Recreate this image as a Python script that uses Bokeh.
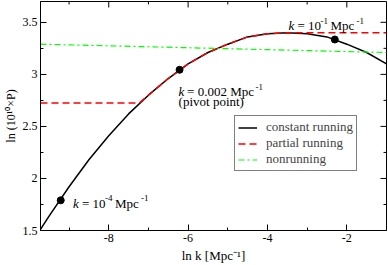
import math
from bokeh.plotting import figure
from bokeh.models import Label, Legend, LegendItem, FixedTicker, Range1d
from bokeh.embed import file_html
from bokeh.resources import INLINE

# ---- data ----
lnk_const = [-9.72, -9.5, -9.0, -8.5, -8.0, -7.5, -7.0, -6.5, -6.0, -5.5, -5.0,
             -4.5, -4.0, -3.5, -3.0, -2.5, -2.0, -1.5, -1.0]
lnP_const = [1.51, 1.64, 1.92, 2.18, 2.41, 2.62, 2.80, 2.96, 3.10, 3.21, 3.29,
             3.36, 3.39, 3.40, 3.39, 3.36, 3.29, 3.21, 3.10]
lnk_partial = [-9.72, -7.23, -7.0, -6.5, -6.0, -5.5, -5.0, -4.5, -4.0, -3.5, -1.0]
lnP_partial = [2.725, 2.725, 2.80, 2.96, 3.10, 3.21, 3.29, 3.36, 3.39, 3.40, 3.40]
lnk_nonrun = [-9.72, -1.0]
lnP_nonrun = [3.29, 3.21]
pts_lnk = [-9.21, -6.215, -2.303]
pts_lnP = [1.79, 3.044, 3.335]
x_ticks = [-8, -6, -4, -2]
x_tick_labels = ["-8", "-6", "-4", "-2"]
x_minor = [-9, -7, -5, -3]
y_ticks = [1.5, 2, 2.5, 3, 3.5]
y_tick_labels = ["1.5", "2", "2.5", "3", "3.5"]
y_minor = [1.75, 2.25, 2.75, 3.25]
series_names = ["constant running", "partial running", "nonrunning"]
x_title = "ln k [Mpc⁻¹]"
y_title = "ln (10¹⁰×P)"
X_MIN, X_MAX = -9.72, -1.0
Y_MIN, Y_MAX = 1.5, 3.7

FONT = "Liberation Serif"

p = figure(width=388, height=265, x_range=Range1d(X_MIN, X_MAX), y_range=Range1d(Y_MIN, Y_MAX),
           output_backend="svg", toolbar_location=None,
           min_border_left=39, min_border_right=2, min_border_top=1, min_border_bottom=33)
p.grid.visible = False
p.outline_line_color = "black"
p.outline_line_width = 1
p.background_fill_color = "white"
p.border_fill_color = "white"

def style_axis(ax, ticks, minor, labels):
    ax.ticker = FixedTicker(ticks=ticks, minor_ticks=minor)
    ax.major_label_overrides = dict(zip(ticks, labels))
    ax.major_tick_in = 6
    ax.major_tick_out = 0
    ax.minor_tick_in = 3
    ax.minor_tick_out = 0
    ax.major_tick_line_color = "black"
    ax.minor_tick_line_color = "black"
    ax.axis_line_color = "black"
    ax.major_label_text_font = FONT
    ax.major_label_text_font_size = "12px"
    ax.major_label_text_color = "black"
    ax.major_label_standoff = 3
    ax.axis_label_text_font = FONT
    ax.axis_label_text_font_style = "normal"
    ax.axis_label_text_color = "black"

style_axis(p.xaxis[0], x_ticks, x_minor, x_tick_labels)
style_axis(p.yaxis[0], y_ticks, y_minor, y_tick_labels)
p.xaxis[0].axis_label = x_title
p.xaxis[0].axis_label_text_font_size = "13px"
p.xaxis[0].axis_label_standoff = 3
p.yaxis[0].axis_label = y_title
p.yaxis[0].axis_label_text_font_size = "12px"
p.yaxis[0].axis_label_standoff = 2

r_const = p.line(lnk_const, lnP_const, line_color="black", line_width=1.5)
r_part = p.line(lnk_partial, lnP_partial, line_color="#ff0000", line_width=1.5, line_dash="7 4")
r_non = p.line(lnk_nonrun, lnP_nonrun, line_color="#00ff00", line_width=1.2, line_dash="6 3 2 3")
p.scatter(pts_lnk, pts_lnP, size=7, color="black")

# mirrored ticks on the top and right frame edges (markers clipped by the frame)
p.scatter(x_ticks, [Y_MAX] * len(x_ticks), marker="dash", angle=math.pi / 2, size=12,
          line_color="black", line_width=1)
p.scatter(x_minor, [Y_MAX] * len(x_minor), marker="dash", angle=math.pi / 2, size=6,
          line_color="black", line_width=1)
p.scatter([X_MAX] * len(y_ticks), y_ticks, marker="dash", size=12, line_color="black", line_width=1)
p.scatter([X_MAX] * len(y_minor), y_minor, marker="dash", size=6, line_color="black", line_width=1)

def piece(x, y, text, dx=0, dy=0, size="13px", style="normal"):
    p.add_layout(Label(x=x, y=y, x_offset=dx, y_offset=dy, text=text, text_font=FONT,
                       text_font_size=size, text_font_style=style,
                       text_baseline="alphabetic", text_align="left", text_color="black"))

# k = 10^-1 Mpc^-1
piece(-3.47, 3.469, "k", style="italic")
piece(-3.47, 3.469, "= 10", dx=9)
piece(-3.47, 3.469, "-1", dx=32, dy=5, size="9px")
piece(-3.47, 3.469, "Mpc", dx=42)
piece(-3.47, 3.469, "-1", dx=68, dy=5, size="9px")
# k = 0.002 Mpc^-1 (pivot point)
piece(-6.24, 2.833, "k", style="italic")
piece(-6.24, 2.833, "= 0.002 Mpc", dx=8.5)
piece(-6.24, 2.833, "-1", dx=77, dy=5, size="9px")
piece(-6.24, 2.735, "(pivot point)")
# k = 10^-4 Mpc^-1
piece(-8.9, 1.764, "k", style="italic")
piece(-8.9, 1.764, "= 10", dx=9)
piece(-8.9, 1.764, "-4", dx=32, dy=5, size="9px")
piece(-8.9, 1.764, "Mpc", dx=42)
piece(-8.9, 1.764, "-1", dx=68, dy=5, size="9px")

legend = Legend(items=[LegendItem(label=series_names[0], renderers=[r_const]),
                       LegendItem(label=series_names[1], renderers=[r_part]),
                       LegendItem(label=series_names[2], renderers=[r_non])],
                location=(194, 59), orientation="vertical")
legend.label_text_font = FONT
legend.label_text_font_size = "13px"
legend.glyph_width = 19
legend.glyph_height = 15
legend.label_height = 15
legend.spacing = 0
legend.padding = 3
legend.margin = 0
legend.label_standoff = 9
legend.border_line_color = "black"
legend.border_line_width = 1
legend.background_fill_alpha = 1
p.add_layout(legend, "center")

open("out.html", "w").write(file_html(p, INLINE))
